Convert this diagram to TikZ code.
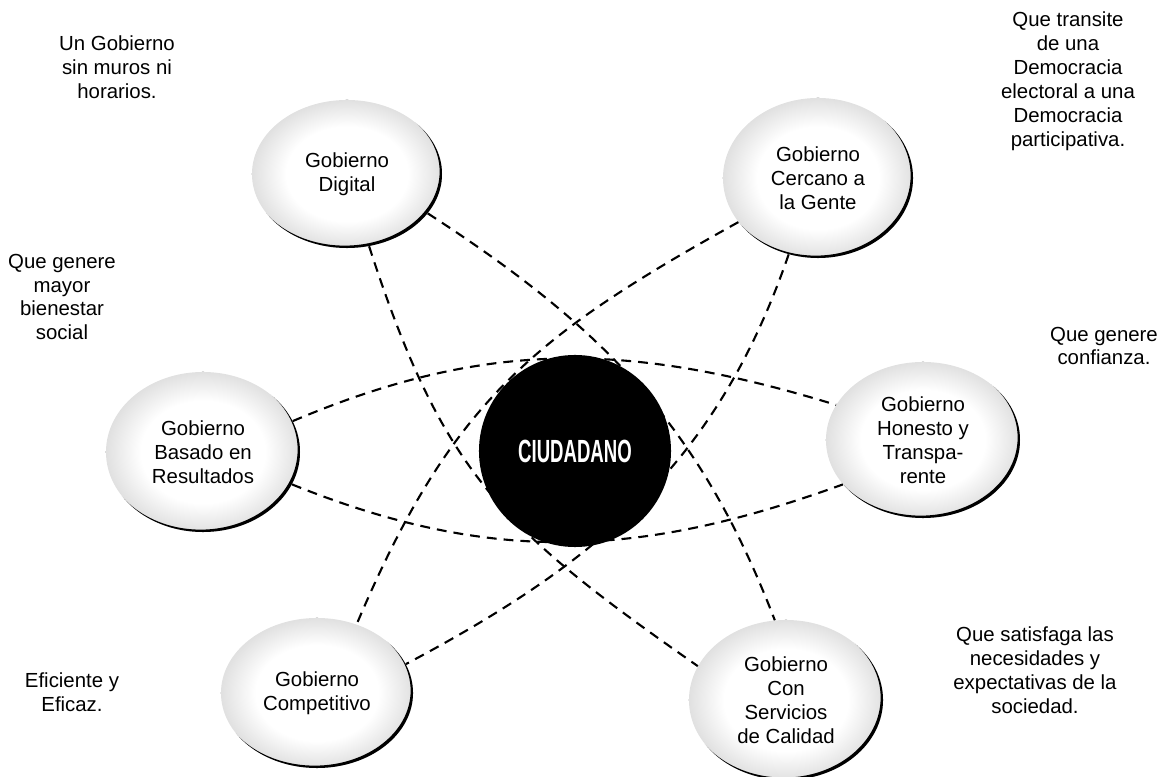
\documentclass[tikz,border=0pt]{standalone}
\usepackage{fontspec}
\setmainfont{Liberation Sans}
\usetikzlibrary{shapes.geometric, positioning}

\colorlet{gobgray}{gray!24}
\pgfdeclareradialshading{gobrim}{\pgfpoint{0bp}{0bp}}{color(0bp)=(white); color(16bp)=(white); color(25bp)=(gobgray); color(50bp)=(gobgray)}
\newcommand\gobfont{\fontsize{14.5}{17}\selectfont}

\begin{document}
\begin{tikzpicture}[
    x=0.025cm, y=0.025cm,
    gob/.style 2 args={ellipse, shade, shading=gobrim, minimum width=#1, minimum height=#2, inner sep=0pt, align=center, font=\gobfont,
        path picture={\fill[black, even odd rule] (path picture bounding box.south west) rectangle (path picture bounding box.north east)
            ([xshift=-1.7pt, yshift=1.7pt]path picture bounding box.center) ellipse [x radius=#1/2, y radius=#2/2];}},
    ciud/.style={circle, fill=black, text=white, minimum size=4.8cm, inner sep=0pt, font=\fontsize{22.8}{26}\selectfont\bfseries},
    nota/.style={align=center, font=\gobfont},
    lazo/.style={draw=black, line width=1.5pt, dash pattern=on 7pt off 5pt}
]
    \useasboundingbox (0,0) rectangle (1160,777);

    \node [ciud] (ciu) at (575,326) {\scalebox{0.58}[1]{CIUDADANO}};
    \node [gob={4.75cm}{3.7cm}] (dig) at (347,603) {Gobierno\\Digital};
    \node [gob={4.75cm}{4cm}] (cer) at (818,599) {Gobierno\\Cercano a\\la Gente};
    \node [gob={4.85cm}{4cm}] (res) at (203,325) {Gobierno\\Basado en\\Resultados};
    \node [gob={4.85cm}{3.9cm}] (hon) at (923,337) {Gobierno\\Honesto y\\Transpa-\\rente};
    \node [gob={4.8cm}{3.75cm}] (com) at (317,84) {Gobierno\\Competitivo};
    \node [gob={4.85cm}{4cm}] (ser) at (786,77) {Gobierno\\Con\\Servicios\\de Calidad};

    \node [nota] (n-dig) at (117,710) {Un Gobierno\\sin muros ni\\horarios.};
    \node [nota] (n-cer) at (1068,696) {Que transite\\de una\\Democracia\\electoral a una\\Democracia\\participativa.};
    \node [nota] (n-res) at (62,480) {Que genere\\mayor\\bienestar\\social};
    \node [nota] (n-hon) at (1104,431) {Que genere\\confianza.};
    \node [nota] (n-com) at (72,85) {Eficiente y\\Eficaz.};
    \node [nota] (n-ser) at (1035,107) {Que satisfaga las\\necesidades y\\expectativas de la\\sociedad.};

    \draw [lazo] (dig.-26) to[out=-33, in=111] (ser.98);
    \draw [lazo] (dig.-73) to[out=-72, in=145, looseness=1.15] (ser.159);
    \draw [lazo] (cer.-151) to[out=-151, in=67, looseness=1.1] (com.60);
    \draw [lazo] (cer.-111) to[out=-109, in=28] (com.18);
    \draw [lazo] (res.19) to[out=23, in=163] (hon.158);
    \draw [lazo] (res.-20) to[out=-22, in=200] (hon.-151);
\end{tikzpicture}
\end{document}
